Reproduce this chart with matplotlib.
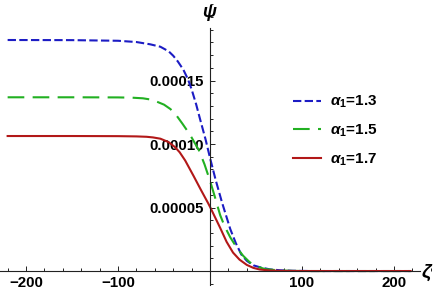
import numpy as np
import matplotlib
matplotlib.use("Agg")
import matplotlib.pyplot as plt
from matplotlib.ticker import MultipleLocator

plt.rcParams['font.family'] = ['Liberation Sans', 'DejaVu Sans']
plt.rcParams['font.weight'] = 'bold'
plt.rcParams['mathtext.fontset'] = 'custom'
plt.rcParams['mathtext.it'] = 'Liberation Sans:italic:bold'
plt.rcParams['mathtext.rm'] = 'Liberation Sans:bold'
plt.rcParams['mathtext.bf'] = 'Liberation Sans:bold'

# values (psi in units of 1e-5)
zeta_blue = [-220, -150, -100, -80, -65, -54, -45, -40, -35, -29, -24, -20, -15, -11, -5,
             0, 6, 13, 22, 28, 34, 40, 47, 54, 65, 76, 90, 110, 150, 218]
psi_blue = [18.19, 18.18, 18.13, 18.03, 17.85, 17.66, 17.3, 16.95, 16.5, 15.85, 15.1, 14.3, 13.1, 12.0, 10.4,
            8.9, 7.2, 5.4, 3.3, 2.2, 1.3, 0.8, 0.45, 0.3, 0.13, 0.06, 0.02, 0.0, 0.0, 0.0]

zeta_green = [-220, -150, -100, -85, -73, -66, -60, -50, -43, -36, -30, -22, -12, -6, 0, 5, 11, 16, 22, 29,
              36, 43, 50, 60, 75, 90, 110, 150, 218]
psi_green = [13.68, 13.68, 13.67, 13.65, 13.6, 13.52, 13.4, 13.1, 12.75, 12.2, 11.6, 10.76, 9.5, 8.4, 7.1, 5.9, 4.4,
             3.5, 2.65, 1.85, 1.2, 0.7, 0.38, 0.15, 0.05, 0.01, 0.0, 0.0, 0.0]

zeta_red = [-220, -150, -100, -80, -69, -62, -54, -45, -38, -33, -27, -18, -10, -2, 0, 5, 11, 18, 25, 32,
            40, 47, 54, 65, 80, 100, 150, 218]
psi_red = [10.63, 10.63, 10.62, 10.6, 10.57, 10.52, 10.42, 10.15, 9.75, 9.35, 8.7, 7.5, 6.4, 5.33, 5.05, 4.3, 3.4,
           2.3, 1.45, 0.9, 0.48, 0.25, 0.12, 0.04, 0.01, 0.0, 0.0, 0.0]

labels = [r'$\alpha_1$=1.3', r'$\alpha_1$=1.5', r'$\alpha_1$=1.7']
colors = ['#1c1cc4', '#22b022', '#b21818']

xticks = [-200, -100, 100, 200]
xlabels = ['\u2212200', '\u2212100', '100', '200']
yticks = [5e-5, 1e-4, 1.5e-4]
ylabels = ['0.00005', '0.00010', '0.00015']

fig = plt.figure(figsize=(4.36, 2.93), dpi=100)
ax = fig.add_axes([0, 0, 1, 1])

scale = 1e-5
ax.plot(zeta_blue, np.array(psi_blue) * scale, color=colors[0], lw=1.5,
        dashes=(4, 1.6), label=labels[0])
ax.plot(zeta_green, np.array(psi_green) * scale, color=colors[1], lw=1.5,
        dashes=(8, 4), label=labels[1])
ax.plot(zeta_red, np.array(psi_red) * scale, color=colors[2], lw=1.5,
        label=labels[2])

ax.set_xlim(-228.3, 245.6)
ax.set_ylim(-1.73e-5, 2.134e-4)

# mathematica style axes through origin
for s in ['top', 'right']:
    ax.spines[s].set_visible(False)
ax.spines['left'].set_position(('data', 0))
ax.spines['bottom'].set_position(('data', 0))
ax.spines['left'].set_bounds(-1.1e-5, 1.91e-4)
ax.spines['bottom'].set_bounds(-228.3, 228)
for s in ['left', 'bottom']:
    ax.spines[s].set_linewidth(0.8)
    ax.spines[s].set_color('#222222')

ax.set_xticks(xticks, labels=xlabels)
ax.set_yticks(yticks, labels=ylabels)
ax.xaxis.set_minor_locator(MultipleLocator(20))
ax.yaxis.set_minor_locator(MultipleLocator(1e-5))
ax.tick_params(which='both', direction='in', color='#222222', width=0.7)
ax.tick_params(which='major', length=3.5, labelsize=10.8)
ax.tick_params(which='minor', length=2)
ax.tick_params(axis='y', pad=4.3)
ax.tick_params(axis='x', pad=3.5)
ax.patch.set_alpha(0)

fig.text(210 / 436, 1 - 13 / 293, r'$\psi$', fontsize=13, ha='center', va='center')
fig.text(427 / 436, 1 - 273 / 293, r'$\zeta$', fontsize=14, ha='center', va='center')

leg = ax.legend(loc='upper left', bbox_to_anchor=(293 / 436, 1 - 94 / 293),
                bbox_transform=fig.transFigure, frameon=False, borderpad=0,
                borderaxespad=0, handlelength=1.8, handletextpad=0.6,
                labelspacing=0.8, prop={'size': 11, 'weight': 'bold'})

fig.savefig("out.png", dpi=100)
